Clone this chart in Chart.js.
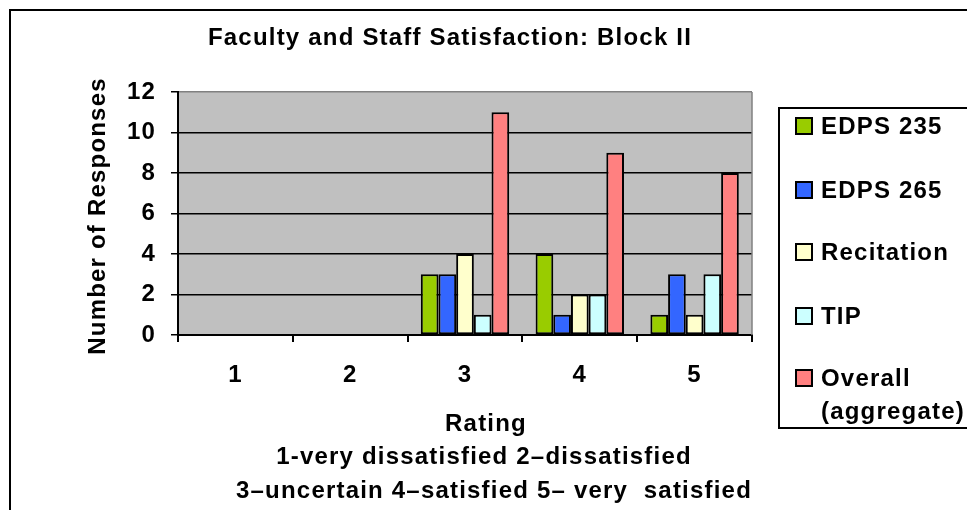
<!DOCTYPE html>
<html>
<head>
<meta charset="utf-8">
<script src="https://cdn.jsdelivr.net/npm/chart.js@4/dist/chart.umd.min.js"></script>
<style>
  html, body { margin: 0; padding: 0; background: #fff; }
  #wrap { width: 967px; height: 510px; position: relative; }
</style>
</head>
<body>
<div id="wrap"><canvas id="chart" width="967" height="510"></canvas></div>
<script>
// Data
const ratings = ["1", "2", "3", "4", "5"];
const edps235 = [0, 0, 3, 4, 1];
const edps265 = [0, 0, 3, 1, 3];
const recitation = [0, 0, 4, 2, 1];
const tip = [0, 0, 1, 2, 3];
const overall = [0, 0, 11, 9, 8];

const seriesNames = ["EDPS 235", "EDPS 265", "Recitation", "TIP", "Overall (aggregate)"];
const seriesColors = ["#99CC00", "#3366FF", "#FFFFCC", "#CCFFFF", "#FF8080"];
const seriesValues = [edps235, edps265, recitation, tip, overall];

const chartTitle = "Faculty and Staff Satisfaction: Block II";
const yTitle = "Number of Responses";
const xTitleLines = [
    "Rating",
    "1-very dissatisfied 2\u2013dissatisfied",
    "3\u2013uncertain 4\u2013satisfied 5\u2013 very  satisfied"
];

const FONT = '"Liberation Sans", Arial, sans-serif';
const SPACING = "1.2px";

// Draws the outer frame, plot background, titles and the boxed legend
const decorPlugin = {
    id: "decor",
    beforeDraw(chart) {
        const ctx = chart.ctx;
        const area = chart.chartArea;
        ctx.save();
        ctx.fillStyle = "#fff";
        ctx.fillRect(0, 0, chart.width, chart.height);
        ctx.fillStyle = "#C0C0C0";
        ctx.fillRect(area.left, area.top, area.right - area.left, area.bottom - area.top);
        ctx.restore();
        ctx.letterSpacing = SPACING;
    },
    afterDatasetsDraw(chart) {
        const ctx = chart.ctx;
        const area = chart.chartArea;
        ctx.save();
        ctx.strokeStyle = "#808080";
        ctx.lineWidth = 1.5;
        ctx.beginPath();
        ctx.moveTo(area.right, area.top);
        ctx.lineTo(area.right, area.bottom);
        ctx.stroke();
        ctx.restore();
    },
    afterDraw(chart) {
        const ctx = chart.ctx;
        ctx.save();
        ctx.letterSpacing = SPACING;

        // outer frame (only top and left edges fall inside the picture)
        ctx.strokeStyle = "#000";
        ctx.lineWidth = 2;
        ctx.strokeRect(10, 10, 1000, 600);

        ctx.fillStyle = "#000";
        ctx.font = "bold 24px " + FONT;
        ctx.textAlign = "center";
        ctx.textBaseline = "middle";
        ctx.fillText(chartTitle, 450, 38);

        // x axis title lines
        ctx.fillText(xTitleLines[0], 486, 424);
        ctx.fillText(xTitleLines[1], 484, 457);
        ctx.fillText(xTitleLines[2], 494, 491);

        // y axis title
        ctx.save();
        ctx.translate(98, 216);
        ctx.rotate(-Math.PI / 2);
        ctx.fillText(yTitle, 0, 0);
        ctx.restore();

        // legend box
        ctx.lineWidth = 2;
        ctx.strokeRect(779, 108, 200, 320);
        const rowY = [126, 190, 252, 316, 378];
        ctx.textAlign = "left";
        seriesNames.forEach((name, i) => {
            ctx.fillStyle = seriesColors[i];
            ctx.fillRect(796, rowY[i] - 8, 16, 16);
            ctx.lineWidth = 2;
            ctx.strokeStyle = "#000";
            ctx.strokeRect(796, rowY[i] - 8, 16, 16);
            ctx.fillStyle = "#000";
            const parts = name === "Overall (aggregate)" ? ["Overall", "(aggregate)"] : [name];
            parts.forEach((p, j) => ctx.fillText(p, 821, rowY[i] + 1 + j * 33));
        });
        ctx.restore();
    }
};

const datasets = seriesNames.map((name, i) => ({
    label: name,
    data: seriesValues[i],
    backgroundColor: seriesColors[i],
    borderColor: "#000",
    borderWidth: 2,
    borderSkipped: false,
    categoryPercentage: 0.77,
    barPercentage: 1.0
}));

new Chart(document.getElementById("chart"), {
    type: "bar",
    data: { labels: ratings, datasets: datasets },
    plugins: [decorPlugin],
    options: {
        responsive: false,
        animation: false,
        events: [],
        layout: { padding: { left: 0, right: 215, top: 92, bottom: 0 } },
        plugins: {
            legend: { display: false },
            title: { display: false },
            tooltip: { enabled: false }
        },
        scales: {
            x: {
                afterFit: (scale) => { scale.height = 175; },
                grid: {
                    offset: true,
                    drawOnChartArea: false,
                    color: "#000",
                    tickColor: "#000",
                    tickLength: 7,
                    lineWidth: 2
                },
                border: { color: "#000", width: 2 },
                ticks: {
                    color: "#000",
                    padding: 19,
                    font: { family: FONT, size: 24, weight: "bold" }
                }
            },
            y: {
                min: 0,
                max: 12,
                afterFit: (scale) => { scale.width = 178; },
                grid: {
                    color: (c) => (c.tick && c.tick.value === 12 ? "#808080" : "#000"),
                    tickColor: "#000",
                    tickLength: 7,
                    lineWidth: 1.5
                },
                border: { color: "#000", width: 2 },
                ticks: {
                    stepSize: 2,
                    color: "#000",
                    padding: 15,
                    font: { family: FONT, size: 24, weight: "bold" }
                }
            }
        }
    }
});
</script>
</body>
</html>
